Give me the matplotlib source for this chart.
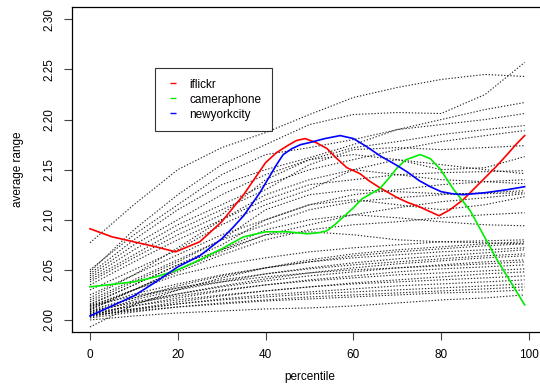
import matplotlib
matplotlib.use("Agg")
import matplotlib.pyplot as plt
from matplotlib.lines import Line2D

plt.rcParams['font.family'] = ['Liberation Sans', 'DejaVu Sans']

# percentile grid for the background (dotted) series
pct = [0, 10, 20, 30, 40, 50, 60, 70, 80, 90, 99]

background_series = [
    [2.077, 2.115, 2.150, 2.172, 2.187, 2.205, 2.222, 2.232, 2.240, 2.245, 2.243],
    [2.048, 2.090, 2.125, 2.155, 2.175, 2.195, 2.205, 2.207, 2.206, 2.225, 2.257],
    [2.050, 2.085, 2.115, 2.145, 2.165, 2.172, 2.180, 2.190, 2.200, 2.210, 2.217],
    [2.046, 2.080, 2.110, 2.135, 2.150, 2.162, 2.175, 2.190, 2.195, 2.200, 2.206],
    [2.044, 2.075, 2.100, 2.125, 2.145, 2.160, 2.172, 2.178, 2.185, 2.190, 2.194],
    [2.042, 2.070, 2.095, 2.115, 2.135, 2.150, 2.160, 2.170, 2.178, 2.184, 2.189],
    [2.040, 2.065, 2.090, 2.110, 2.130, 2.155, 2.170, 2.172, 2.170, 2.172, 2.174],
    [2.038, 2.062, 2.085, 2.105, 2.140, 2.160, 2.165, 2.160, 2.150, 2.152, 2.163],
    [2.035, 2.058, 2.080, 2.100, 2.120, 2.135, 2.140, 2.145, 2.147, 2.148, 2.149],
    [2.030, 2.050, 2.070, 2.095, 2.115, 2.130, 2.150, 2.160, 2.155, 2.150, 2.146],
    [2.025, 2.045, 2.065, 2.085, 2.100, 2.115, 2.125, 2.130, 2.135, 2.138, 2.140],
    [2.022, 2.045, 2.072, 2.100, 2.125, 2.140, 2.150, 2.145, 2.140, 2.138, 2.136],
    [2.020, 2.040, 2.060, 2.080, 2.095, 2.110, 2.118, 2.122, 2.125, 2.127, 2.129],
    [2.018, 2.038, 2.058, 2.080, 2.110, 2.125, 2.130, 2.128, 2.126, 2.126, 2.127],
    [2.016, 2.035, 2.055, 2.070, 2.085, 2.095, 2.105, 2.112, 2.118, 2.122, 2.126],
    [2.015, 2.035, 2.055, 2.075, 2.100, 2.115, 2.120, 2.115, 2.110, 2.115, 2.123],
    [2.014, 2.030, 2.048, 2.065, 2.080, 2.090, 2.095, 2.098, 2.102, 2.105, 2.107],
    [2.013, 2.030, 2.050, 2.070, 2.090, 2.100, 2.105, 2.102, 2.098, 2.095, 2.094],
    [2.010, 2.030, 2.045, 2.055, 2.062, 2.068, 2.072, 2.075, 2.078, 2.079, 2.080],
    [1.993, 2.015, 2.030, 2.042, 2.052, 2.060, 2.066, 2.070, 2.073, 2.076, 2.078],
    [2.008, 2.022, 2.034, 2.044, 2.052, 2.058, 2.064, 2.068, 2.071, 2.074, 2.076],
    [2.012, 2.026, 2.036, 2.045, 2.052, 2.058, 2.062, 2.065, 2.068, 2.070, 2.072],
    [2.006, 2.020, 2.030, 2.038, 2.046, 2.052, 2.057, 2.061, 2.064, 2.067, 2.070],
    [2.010, 2.022, 2.032, 2.040, 2.046, 2.051, 2.055, 2.058, 2.061, 2.064, 2.066],
    [2.004, 2.016, 2.026, 2.034, 2.041, 2.047, 2.052, 2.056, 2.059, 2.062, 2.064],
    [2.008, 2.018, 2.026, 2.033, 2.039, 2.044, 2.048, 2.052, 2.055, 2.058, 2.060],
    [2.014, 2.024, 2.032, 2.038, 2.043, 2.047, 2.050, 2.052, 2.054, 2.056, 2.058],
    [2.005, 2.014, 2.022, 2.029, 2.035, 2.040, 2.044, 2.048, 2.051, 2.053, 2.055],
    [2.009, 2.017, 2.024, 2.030, 2.035, 2.039, 2.042, 2.045, 2.047, 2.049, 2.051],
    [2.003, 2.011, 2.018, 2.024, 2.029, 2.033, 2.037, 2.040, 2.043, 2.046, 2.048],
    [2.007, 2.014, 2.020, 2.025, 2.029, 2.033, 2.036, 2.038, 2.040, 2.042, 2.044],
    [2.004, 2.010, 2.016, 2.021, 2.025, 2.028, 2.031, 2.034, 2.036, 2.038, 2.040],
    [2.006, 2.011, 2.016, 2.020, 2.023, 2.026, 2.028, 2.030, 2.032, 2.034, 2.036],
    [2.002, 2.008, 2.013, 2.017, 2.020, 2.023, 2.025, 2.027, 2.029, 2.031, 2.033],
    [2.005, 2.009, 2.013, 2.016, 2.019, 2.021, 2.023, 2.025, 2.027, 2.028, 2.030],
    [2.000, 2.004, 2.007, 2.009, 2.011, 2.012, 2.014, 2.017, 2.020, 2.022, 2.025],
    [2.011, 2.030, 2.050, 2.068, 2.085, 2.088, 2.085, 2.080, 2.078, 2.077, 2.076],
]

iflickr_pct = [0, 5, 10, 15, 19.5, 25, 30, 35, 40, 42.5, 45, 47, 49, 51.5, 54, 56, 58.5, 61.5, 63.5,
               66, 70, 72.5, 75, 77, 79.5, 82, 85, 87.5, 90, 92.5, 95, 97, 99]
iflickr_val = [2.091, 2.083, 2.078, 2.073, 2.068, 2.078, 2.098, 2.125, 2.157, 2.167, 2.174, 2.179,
               2.181, 2.177, 2.171, 2.162, 2.152, 2.146, 2.139, 2.132, 2.122, 2.117, 2.113, 2.109,
               2.104, 2.110, 2.120, 2.131, 2.142, 2.153, 2.165, 2.175, 2.184]

cameraphone_pct = [0, 10, 15, 20, 25, 30, 35, 40, 45, 49.5, 52, 54, 56, 58, 60, 62, 64, 66, 68, 70,
                   72, 75.2, 77.5, 79.7, 82.7, 86.6, 92.6, 99]
cameraphone_val = [2.033, 2.038, 2.043, 2.050, 2.060, 2.071, 2.083, 2.088, 2.088, 2.086, 2.087, 2.089,
                   2.096, 2.104, 2.112, 2.121, 2.126, 2.131, 2.141, 2.152, 2.160, 2.165, 2.161,
                   2.151, 2.131, 2.109, 2.061, 2.015]

newyorkcity_pct = [0, 5, 10, 15, 20, 25, 30, 32.5, 35, 38.7, 42.5, 44, 46, 48, 50, 53.5, 57, 60, 63,
                   66, 70, 72.5, 75, 77.5, 80, 82.5, 85, 90, 95, 99]
newyorkcity_val = [2.004, 2.014, 2.024, 2.038, 2.053, 2.064, 2.081, 2.092, 2.104, 2.127, 2.155, 2.165,
                   2.171, 2.175, 2.177, 2.181, 2.184, 2.181, 2.173, 2.164, 2.154, 2.147, 2.139,
                   2.133, 2.128, 2.126, 2.125, 2.127, 2.130, 2.133]

legend_labels = ["iflickr", "cameraphone", "newyorkcity"]
colors = ["#ff0000", "#00ee00", "#0000ff"]

W, H = 540, 385
fig = plt.figure(figsize=(W / 100, H / 100), dpi=100)
ax_l, ax_r, ax_t, ax_b = 72.4, 546.6, 7.3, 332.0
ax = fig.add_axes([ax_l / W, 1 - ax_b / H, (ax_r - ax_l) / W, (ax_b - ax_t) / H])

for s in background_series:
    ax.plot(pct, s, color="black", lw=0.8, linestyle=(0, (1.2, 1.6)), alpha=0.85)

ax.plot(iflickr_pct, iflickr_val, color=colors[0], lw=1.2)
ax.plot(cameraphone_pct, cameraphone_val, color=colors[1], lw=1.2)
ax.plot(newyorkcity_pct, newyorkcity_val, color=colors[2], lw=1.2)

ax.set_xlim(-4, 104)
ax.set_ylim(1.988, 2.312)
ax.set_xticks([0, 20, 40, 60, 80, 100])
ax.set_yticks([2.00, 2.05, 2.10, 2.15, 2.20, 2.25, 2.30])
ax.set_yticklabels(["2.00", "2.05", "2.10", "2.15", "2.20", "2.25", "2.30"], rotation=90, va="center")
ax.tick_params(axis="both", direction="out", length=5.5, width=0.8, labelsize=8.5, pad=7,
               colors="#444444", labelcolor="black")
for sp in ax.spines.values():
    sp.set_linewidth(0.9)
    sp.set_color("black")

ax.set_xlabel("percentile", fontsize=8.5)
ax.set_ylabel("average range", fontsize=8.5)
ax.xaxis.label.set_va("center")
ax.yaxis.label.set_va("center")
ax.xaxis.set_label_coords((309.5 - ax_l) / (ax_r - ax_l), -(376.7 - ax_b) / (ax_b - ax_t))
ax.yaxis.set_label_coords((18 - ax_l) / (ax_r - ax_l), 0.5)

handles = [Line2D([], [], color=c, marker="_", linestyle="None", markersize=5, markeredgewidth=1.0)
           for c in colors]
leg = fig.legend(handles, legend_labels, loc="upper left", bbox_to_anchor=(155 / W, 1 - 68 / H),
                 frameon=True, fancybox=False, fontsize=8.5, handlelength=1.2, handletextpad=0.8,
                 borderpad=0.9, labelspacing=0.25, borderaxespad=0)
leg.get_frame().set_edgecolor("black")
leg.get_frame().set_linewidth(0.8)

fig.savefig("out.png", dpi=100)
